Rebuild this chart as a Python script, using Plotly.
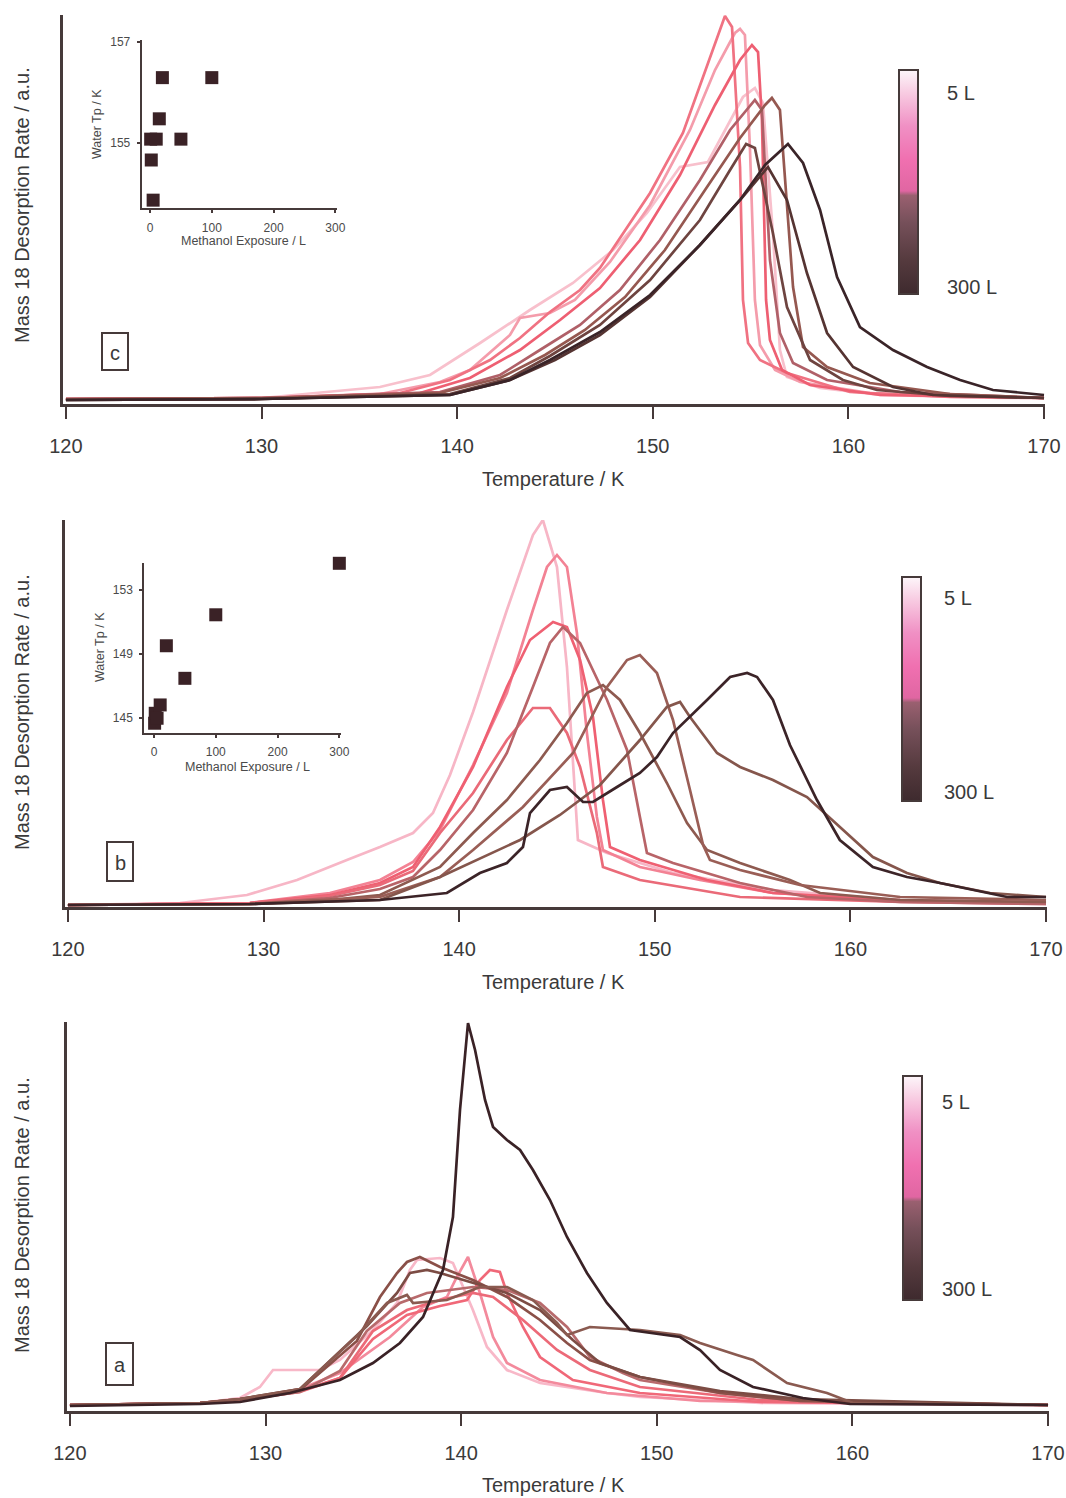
import plotly.graph_objects as go

W, H = 1066, 1498
FONT = "Liberation Sans"
AX = "#463a3a"
TXT = "#3a3a3a"

temp_ticks = [120, 130, 140, 150, 160, 170]
exposure_ticks = [0, 100, 200, 300]
colorbar_labels = ["5 L", "300 L"]

# ---------------- panel c ----------------
c4_T = [120.0, 130.02, 136.05, 138.61, 141.17, 143.72, 145.92, 147.97, 149.70, 151.39, 152.82, 153.79, 154.61, 155.22, 155.63, 156.14, 156.50, 156.86, 158.55, 161.62, 167.75, 170.0]
c4_h = [0.05, 0.06, 0.17, 0.29, 0.61, 0.94, 1.21, 1.54, 1.91, 2.37, 2.42, 2.77, 3.07, 3.16, 3.01, 1.71, 0.54, 0.27, 0.16, 0.09, 0.06, 0.06]
c2_T = [120.0, 130.0, 136.05, 139.12, 140.65, 142.70, 143.21, 144.74, 146.02, 147.81, 149.86, 151.90, 153.18, 154.20, 154.46, 154.71, 154.97, 155.22, 155.48, 156.25, 157.53, 161.10, 170.0]
c2_h = [0.05, 0.06, 0.10, 0.22, 0.34, 0.69, 0.86, 0.91, 1.04, 1.42, 1.99, 2.74, 3.34, 3.71, 3.75, 3.69, 2.54, 1.04, 0.59, 0.34, 0.22, 0.11, 0.06]
c1_T = [120.0, 130.0, 137.08, 139.63, 141.68, 143.21, 144.74, 146.28, 147.30, 149.86, 151.54, 152.77, 153.69, 154.05, 154.46, 154.61, 154.87, 155.48, 156.86, 160.08, 165.19, 170.0]
c1_h = [0.05, 0.06, 0.11, 0.24, 0.44, 0.66, 0.92, 1.14, 1.36, 2.11, 2.71, 3.37, 3.88, 3.77, 2.37, 1.04, 0.61, 0.44, 0.31, 0.12, 0.07, 0.06]
c3_T = [120.0, 130.0, 138.10, 140.65, 143.21, 145.26, 147.30, 149.35, 151.39, 153.18, 154.46, 155.07, 155.38, 155.58, 155.79, 155.99, 156.61, 158.04, 161.62, 170.0]
c3_h = [0.05, 0.06, 0.11, 0.26, 0.54, 0.84, 1.16, 1.64, 2.29, 2.99, 3.44, 3.59, 3.52, 2.84, 1.04, 0.64, 0.34, 0.19, 0.09, 0.06]
c5_T = [120.0, 130.0, 139.12, 142.19, 144.23, 146.28, 148.32, 150.37, 152.41, 153.95, 155.22, 155.58, 155.99, 156.50, 157.17, 158.91, 162.64, 170.0]
c5_h = [0.05, 0.06, 0.12, 0.29, 0.54, 0.79, 1.14, 1.64, 2.24, 2.74, 3.04, 2.94, 1.44, 0.71, 0.41, 0.24, 0.12, 0.06]
c6_T = [120.0, 130.0, 139.12, 142.19, 144.49, 146.53, 148.58, 150.62, 152.67, 154.46, 155.74, 156.09, 156.50, 157.17, 157.68, 158.91, 161.10, 165.19, 170.0]
c6_h = [0.05, 0.06, 0.11, 0.26, 0.49, 0.74, 1.07, 1.54, 2.14, 2.66, 2.99, 3.06, 2.94, 1.17, 0.57, 0.37, 0.21, 0.10, 0.06]
c7_T = [120.0, 130.0, 139.63, 142.70, 144.74, 147.30, 149.86, 152.41, 153.95, 154.77, 155.22, 156.14, 156.86, 158.04, 159.72, 161.46, 165.19, 170.0]
c7_h = [0.04, 0.05, 0.10, 0.26, 0.48, 0.79, 1.24, 1.84, 2.34, 2.60, 2.56, 1.71, 0.97, 0.44, 0.24, 0.14, 0.08, 0.06]
c9_T = [120.0, 130.0, 139.63, 142.70, 145.0, 147.30, 149.86, 152.41, 154.46, 155.89, 156.86, 157.88, 158.91, 160.24, 162.28, 164.32, 170.0]
c9_h = [0.04, 0.05, 0.09, 0.24, 0.44, 0.69, 1.07, 1.59, 2.04, 2.37, 2.04, 1.31, 0.71, 0.37, 0.17, 0.09, 0.06]
c8_T = [120.0, 130.0, 139.63, 142.70, 144.74, 147.30, 149.86, 152.41, 154.46, 155.74, 156.91, 157.68, 158.55, 159.42, 160.59, 162.28, 164.02, 165.71, 167.39, 170.0]
c8_h = [0.04, 0.05, 0.09, 0.24, 0.44, 0.72, 1.09, 1.59, 2.04, 2.39, 2.60, 2.41, 1.94, 1.27, 0.77, 0.54, 0.37, 0.24, 0.14, 0.09]

c_inset_exposure = [1, 2, 5, 10, 15, 20, 50, 100, 300]
c_inset_tp = [155.08, 154.67, 153.88, 155.08, 155.48, 156.29, 155.08, 156.29, 157.07]

# ---------------- panel b ----------------
b1_T = [120.0, 125.73, 129.15, 131.71, 134.26, 135.95, 137.64, 138.66, 139.53, 140.71, 142.44, 143.77, 144.28, 145.0, 145.51, 145.82, 146.07, 147.56, 150.93, 156.04, 162.54, 170.0]
b1_h = [0.02, 0.04, 0.12, 0.27, 0.47, 0.60, 0.74, 0.94, 1.32, 1.95, 2.97, 3.72, 3.87, 3.40, 2.40, 1.40, 0.67, 0.54, 0.34, 0.17, 0.07, 0.05]
b2_T = [120.0, 129.30, 133.39, 135.95, 137.64, 139.02, 140.71, 142.44, 143.77, 144.49, 145.0, 145.51, 146.02, 146.53, 147.04, 147.35, 149.24, 152.31, 156.04, 162.54, 170.0]
b2_h = [0.02, 0.04, 0.14, 0.27, 0.45, 0.77, 1.42, 2.14, 2.97, 3.40, 3.52, 3.40, 2.74, 1.74, 0.90, 0.57, 0.40, 0.27, 0.14, 0.07, 0.04]
b3_T = [120.0, 129.30, 133.39, 135.95, 137.64, 139.02, 140.71, 142.44, 143.62, 144.80, 145.51, 146.18, 146.84, 147.35, 147.71, 149.24, 152.67, 156.04, 162.54, 170.0]
b3_h = [0.02, 0.04, 0.12, 0.24, 0.40, 0.80, 1.40, 2.20, 2.67, 2.85, 2.80, 2.47, 1.90, 1.07, 0.60, 0.47, 0.27, 0.14, 0.06, 0.04]
b4_T = [120.0, 129.30, 133.39, 135.95, 137.64, 139.02, 140.71, 142.44, 143.77, 144.64, 145.51, 146.18, 147.04, 147.35, 149.24, 154.36, 162.54, 170.0]
b4_h = [0.02, 0.04, 0.11, 0.22, 0.36, 0.74, 1.14, 1.67, 1.99, 1.99, 1.74, 1.40, 0.74, 0.40, 0.27, 0.10, 0.05, 0.03]
b5_T = [120.0, 129.30, 133.39, 135.95, 137.64, 139.02, 140.71, 142.44, 143.77, 144.64, 145.31, 146.18, 147.56, 148.58, 149.24, 149.60, 150.93, 154.36, 157.78, 162.54, 170.0]
b5_h = [0.02, 0.03, 0.09, 0.18, 0.30, 0.57, 0.97, 1.54, 2.20, 2.64, 2.80, 2.64, 2.07, 1.57, 0.90, 0.54, 0.44, 0.24, 0.10, 0.05, 0.03]
b6_T = [120.0, 129.30, 133.39, 135.95, 139.02, 140.71, 142.44, 144.13, 145.51, 146.53, 147.35, 148.22, 149.24, 150.62, 151.65, 152.67, 154.36, 156.91, 158.45, 162.54, 170.0]
b6_h = [0.02, 0.03, 0.07, 0.12, 0.40, 0.74, 1.07, 1.47, 1.84, 2.14, 2.22, 2.07, 1.74, 1.24, 0.84, 0.57, 0.44, 0.27, 0.14, 0.07, 0.05]
b7_T = [120.0, 129.30, 135.95, 139.02, 140.71, 143.26, 145.82, 147.56, 148.58, 149.24, 150.11, 150.93, 151.80, 152.47, 152.82, 154.36, 157.42, 162.54, 170.0]
b7_h = [0.02, 0.03, 0.10, 0.30, 0.57, 1.00, 1.54, 2.20, 2.47, 2.52, 2.34, 1.87, 1.17, 0.62, 0.47, 0.37, 0.22, 0.10, 0.07]
b8_T = [120.0, 129.30, 135.95, 139.02, 143.11, 145.15, 147.20, 149.24, 150.62, 151.29, 151.80, 153.18, 154.36, 156.04, 157.78, 159.46, 161.15, 162.89, 164.58, 167.14, 170.0]
b8_h = [0.02, 0.03, 0.07, 0.30, 0.67, 0.92, 1.22, 1.67, 2.00, 2.05, 1.90, 1.54, 1.40, 1.27, 1.10, 0.80, 0.50, 0.34, 0.24, 0.14, 0.10]
b9_T = [120.0, 129.30, 135.95, 139.37, 141.06, 142.44, 143.26, 143.62, 144.64, 145.51, 146.33, 146.84, 148.07, 149.24, 150.11, 150.93, 152.67, 153.85, 154.72, 155.23, 156.04, 156.91, 158.29, 159.46, 161.15, 162.89, 164.58, 166.27, 168.01, 170.0]
b9_h = [0.02, 0.03, 0.07, 0.14, 0.34, 0.44, 0.60, 0.94, 1.17, 1.20, 1.05, 1.05, 1.20, 1.34, 1.50, 1.74, 2.07, 2.30, 2.34, 2.30, 2.07, 1.62, 1.07, 0.67, 0.40, 0.30, 0.24, 0.17, 0.10, 0.10]

b_inset_exposure = [1, 2, 5, 10, 20, 50, 100, 300]
b_inset_tp = [144.69, 145.31, 145.0, 145.83, 149.52, 147.49, 151.45, 154.66]

# ---------------- panel a ----------------
a1_T = [120.0, 126.65, 128.69, 129.71, 130.38, 132.78, 133.80, 135.49, 136.72, 137.38, 137.74, 138.92, 139.58, 140.60, 141.32, 142.34, 144.03, 147.45, 149.14, 155.28, 170.0]
a1_h = [0.06, 0.08, 0.13, 0.24, 0.41, 0.41, 0.51, 0.81, 1.08, 1.41, 1.51, 1.53, 1.48, 1.01, 0.64, 0.41, 0.28, 0.18, 0.14, 0.08, 0.06]
a2_T = [120.0, 126.65, 128.69, 131.76, 133.80, 136.36, 138.05, 139.27, 139.78, 140.35, 140.96, 141.63, 142.34, 144.03, 147.45, 152.21, 170.0]
a2_h = [0.06, 0.08, 0.11, 0.22, 0.38, 0.74, 1.04, 1.14, 1.34, 1.54, 1.18, 0.74, 0.48, 0.31, 0.18, 0.10, 0.06]
a3_T = [120.0, 126.65, 128.69, 131.76, 133.80, 135.49, 137.23, 138.92, 140.30, 140.96, 141.47, 141.98, 142.34, 143.16, 144.03, 145.71, 149.14, 155.28, 170.0]
a3_h = [0.06, 0.08, 0.11, 0.20, 0.33, 0.72, 0.96, 1.05, 1.11, 1.31, 1.41, 1.39, 1.18, 0.84, 0.54, 0.31, 0.18, 0.09, 0.06]
a4_T = [120.0, 126.65, 128.69, 131.76, 133.80, 135.49, 137.23, 138.92, 140.60, 141.63, 143.16, 144.90, 146.58, 149.14, 155.28, 170.0]
a4_h = [0.06, 0.08, 0.11, 0.19, 0.33, 0.80, 1.01, 1.11, 1.18, 1.14, 0.91, 0.61, 0.41, 0.24, 0.11, 0.06]
a5_T = [120.0, 126.65, 128.69, 131.76, 133.80, 135.18, 136.87, 138.25, 140.60, 142.34, 144.03, 145.41, 146.58, 148.27, 149.14, 153.23, 157.32, 170.0]
a5_h = [0.06, 0.08, 0.11, 0.19, 0.40, 0.80, 1.08, 1.18, 1.24, 1.21, 1.08, 0.84, 0.54, 0.38, 0.31, 0.18, 0.10, 0.06]
a6_T = [120.0, 126.65, 128.69, 131.76, 134.67, 135.85, 136.72, 137.23, 137.89, 138.92, 140.60, 142.34, 144.03, 145.41, 146.58, 149.14, 153.23, 157.32, 170.0]
a6_h = [0.06, 0.08, 0.12, 0.21, 0.70, 1.14, 1.38, 1.49, 1.54, 1.44, 1.31, 1.14, 0.91, 0.68, 0.51, 0.34, 0.18, 0.10, 0.06]
a7_T = [120.0, 126.65, 128.69, 131.76, 135.18, 136.72, 137.38, 138.25, 138.92, 140.60, 142.34, 144.03, 145.71, 147.10, 149.14, 153.23, 157.32, 170.0]
a7_h = [0.06, 0.08, 0.12, 0.22, 0.85, 1.18, 1.38, 1.41, 1.38, 1.28, 1.18, 1.01, 0.71, 0.48, 0.34, 0.20, 0.12, 0.06]
a8_T = [120.0, 126.65, 128.69, 131.76, 134.67, 136.21, 137.23, 137.54, 139.27, 140.96, 142.34, 143.67, 144.90, 145.41, 146.58, 149.14, 151.19, 152.21, 154.10, 154.92, 156.66, 158.70, 160.03, 170.0]
a8_h = [0.06, 0.08, 0.12, 0.22, 0.75, 1.08, 1.16, 1.08, 1.11, 1.24, 1.24, 1.11, 0.88, 0.76, 0.84, 0.81, 0.76, 0.68, 0.56, 0.51, 0.28, 0.18, 0.08, 0.06]
a9_T = [120.0, 126.65, 128.69, 131.25, 133.80, 135.49, 136.87, 138.05, 139.07, 139.58, 139.94, 140.35, 140.71, 141.22, 141.63, 142.34, 143.01, 143.67, 144.54, 145.41, 146.43, 147.45, 148.63, 151.19, 152.21, 153.23, 154.92, 157.47, 159.88, 170.0]
a9_h = [0.05, 0.07, 0.09, 0.18, 0.31, 0.48, 0.68, 0.94, 1.41, 1.94, 3.01, 3.88, 3.61, 3.11, 2.84, 2.71, 2.61, 2.41, 2.11, 1.74, 1.38, 1.08, 0.81, 0.74, 0.61, 0.41, 0.24, 0.13, 0.07, 0.06]

# curve colours (light = low exposure, dark = high exposure)
c_curves = [(c4_T, c4_h, "#f8c0cc"), (c2_T, c2_h, "#f49cab"), (c1_T, c1_h, "#f07282"),
            (c3_T, c3_h, "#ee5f72"), (c5_T, c5_h, "#b06068"), (c6_T, c6_h, "#955850"),
            (c7_T, c7_h, "#6e4440"), (c9_T, c9_h, "#553432"), (c8_T, c8_h, "#3a2428")]
b_curves = [(b1_T, b1_h, "#f7b6c6"), (b2_T, b2_h, "#f38294"), (b3_T, b3_h, "#ef6072"),
            (b4_T, b4_h, "#ea6a78"), (b5_T, b5_h, "#b86468"), (b6_T, b6_h, "#8e5a50"),
            (b7_T, b7_h, "#9a5e56"), (b8_T, b8_h, "#85564c"), (b9_T, b9_h, "#3c2428")]
a_curves = [(a1_T, a1_h, "#f8b8c8"), (a2_T, a2_h, "#f38a9c"), (a3_T, a3_h, "#f06878"),
            (a4_T, a4_h, "#ec6a78"), (a5_T, a5_h, "#b86a6c"), (a6_T, a6_h, "#8a5048"),
            (a7_T, a7_h, "#7c4c44"), (a8_T, a8_h, "#8a5a50"), (a9_T, a9_h, "#3a2226")]


def fx(p):
    return p / W


def fy(p):
    return 1 - p / H


fig = go.Figure()

for curves, xa, ya in [(c_curves, "x", "y"), (b_curves, "x2", "y2"), (a_curves, "x3", "y3")]:
    for T, h, col in curves:
        fig.add_trace(go.Scatter(x=T, y=h, mode="lines", line=dict(color=col, width=2.7),
                                 xaxis=xa, yaxis=ya, showlegend=False, hoverinfo="skip"))

for ex, tp, xa, ya in [(c_inset_exposure, c_inset_tp, "x4", "y4"), (b_inset_exposure, b_inset_tp, "x5", "y5")]:
    fig.add_trace(go.Scatter(x=ex, y=tp, mode="markers", cliponaxis=False,
                             marker=dict(symbol="square", size=13, color="#3a2226"),
                             xaxis=xa, yaxis=ya, showlegend=False, hoverinfo="skip"))

# dummy traces carrying the colour bars
for k, ca in enumerate(["coloraxis", "coloraxis2", "coloraxis3"]):
    fig.add_trace(go.Scatter(x=[None], y=[None], mode="markers",
                             marker=dict(color=[0.5], coloraxis=ca),
                             xaxis="x", yaxis="y", showlegend=False, hoverinfo="skip"))

cscale = [[0.0, "#3e2a2e"], [0.15, "#553a3e"], [0.32, "#76505a"], [0.44, "#9a6070"],
          [0.46, "#e066a2"], [0.6, "#f070b0"], [0.75, "#f090c4"], [0.9, "#f8cce2"], [1.0, "#fdf6fa"]]

main_x = dict(showgrid=False, zeroline=False, showline=True, linecolor=AX, linewidth=2.5,
              ticks="outside", ticklen=12, tickwidth=2, tickcolor=AX, tickvals=temp_ticks,
              tickfont=dict(family=FONT, size=20, color=TXT), ticklabelstandoff=10,
              range=[119.85, 170.05], fixedrange=True)
main_y = dict(showgrid=False, zeroline=False, showline=True, linecolor=AX, linewidth=2.5,
              showticklabels=False, ticks="", fixedrange=True)
inset_ax = dict(showgrid=False, zeroline=False, showline=True, linecolor=AX, linewidth=2,
                ticks="outside", ticklen=3, tickwidth=2, tickcolor=AX,
                tickfont=dict(family=FONT, size=12, color="#4a4a4a"), fixedrange=True)

layout = dict(
    width=W, height=H, margin=dict(l=0, r=0, t=0, b=0, autoexpand=False),
    paper_bgcolor="white", plot_bgcolor="rgba(0,0,0,0)",
    xaxis=dict(main_x, domain=[fx(63), fx(1045)], anchor="y"),
    yaxis=dict(main_y, domain=[fy(404), fy(15)], range=[0, 3.89], anchor="x"),
    xaxis2=dict(main_x, domain=[fx(65), fx(1047)], anchor="y2"),
    yaxis2=dict(main_y, domain=[fy(907), fy(520)], range=[0, 3.87], anchor="x2"),
    xaxis3=dict(main_x, domain=[fx(67), fx(1049)], anchor="y3"),
    yaxis3=dict(main_y, domain=[fy(1411), fy(1022)], range=[0, 3.89], anchor="x3"),
    xaxis4=dict(inset_ax, domain=[fx(141.7), fx(336.7)], range=[-13.5, 302.2], anchor="y4",
                tickvals=exposure_ticks, ticklabelstandoff=4),
    yaxis4=dict(inset_ax, domain=[fy(208.3), fy(40)], range=[153.72, 157.03], anchor="x4",
                tickvals=[155, 157], ticklabelstandoff=4),
    xaxis5=dict(inset_ax, domain=[fx(144.3), fx(341)], range=[-15.7, 302.7], anchor="y5",
                tickvals=exposure_ticks, ticklabelstandoff=4),
    yaxis5=dict(inset_ax, domain=[fy(732.7), fy(563.3)], range=[144.10, 154.66], anchor="x5",
                tickvals=[145, 149, 153], ticklabelstandoff=4),
)

cb_pos = [(899, 70), (902, 577), (903, 1076)]
for k, (cx, cy) in enumerate(cb_pos):
    name = "coloraxis" if k == 0 else f"coloraxis{k + 1}"
    layout[name] = dict(colorscale=cscale, cmin=0, cmax=1, showscale=True,
                        colorbar=dict(x=fx(cx), xanchor="left", xpad=0, y=fy(cy), yanchor="top",
                                      ypad=0, len=224, lenmode="pixels", thickness=19,
                                      outlinewidth=2, outlinecolor=AX, showticklabels=False,
                                      ticks=""))
fig.update_layout(**layout)

ann = []
shapes = []
title_font = dict(family=FONT, size=20, color=TXT)
for ytitle, xtitle_y in [(205, 479), (712, 982), (1215, 1485)]:
    ann.append(dict(text="Mass 18 Desorption Rate / a.u.", x=fx(22), y=fy(ytitle), xref="paper",
                    yref="paper", showarrow=False, textangle=-90, font=title_font,
                    xanchor="center", yanchor="middle"))
    ann.append(dict(text="Temperature / K", x=fx(553), y=fy(xtitle_y), xref="paper", yref="paper",
                    showarrow=False, font=title_font, xanchor="center", yanchor="middle"))

for lab, (x0, y0, x1, y1) in [("c", (102, 333, 128, 370)), ("b", (107, 842, 133, 881)),
                              ("a", (106, 1343, 133, 1385))]:
    shapes.append(dict(type="rect", xref="paper", yref="paper", x0=fx(x0), x1=fx(x1),
                       y0=fy(y1), y1=fy(y0), line=dict(color=AX, width=2)))
    ann.append(dict(text=lab, x=fx((x0 + x1) / 2), y=fy((y0 + y1) / 2 + 1), xref="paper",
                    yref="paper", showarrow=False, font=title_font, xanchor="center",
                    yanchor="middle"))

for (tx, ty_top, ty_bot) in [(945, 93, 287), (942, 598, 792), (940, 1102, 1289)]:
    ann.append(dict(text=colorbar_labels[0], x=fx(tx), y=fy(ty_top), xref="paper", yref="paper",
                    showarrow=False, font=title_font, xanchor="left", yanchor="middle"))
    ann.append(dict(text=colorbar_labels[1], x=fx(tx), y=fy(ty_bot), xref="paper", yref="paper",
                    showarrow=False, font=title_font, xanchor="left", yanchor="middle"))

inset_font = dict(family=FONT, size=12.5, color="#4a4a4a")
for (mx, my, wx, wy) in [(243, 241, 97, 124), (247, 767, 100, 647)]:
    ann.append(dict(text="Methanol Exposure / L", x=fx(mx), y=fy(my), xref="paper", yref="paper",
                    showarrow=False, font=inset_font, xanchor="center", yanchor="middle"))
    ann.append(dict(text="Water Tp / K", x=fx(wx), y=fy(wy), xref="paper", yref="paper",
                    showarrow=False, font=inset_font, textangle=-90, xanchor="center",
                    yanchor="middle"))

fig.update_layout(annotations=ann, shapes=shapes)
fig.write_html("out.html")
